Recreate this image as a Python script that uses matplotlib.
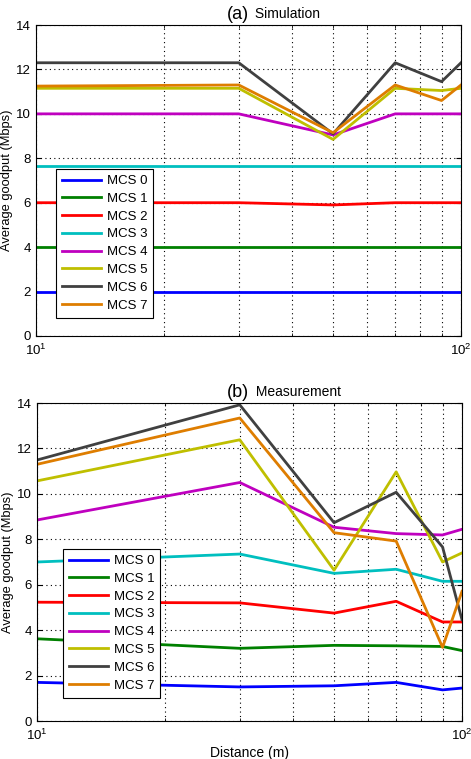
import numpy as np
import matplotlib
matplotlib.use('Agg')
import matplotlib.pyplot as plt

plt.rcParams['font.family'] = ['Liberation Sans', 'DejaVu Sans']
plt.rcParams['mathtext.fontset'] = 'custom'
plt.rcParams['mathtext.rm'] = 'Liberation Sans'

# ========== 数据 ==========
distance = [10, 30, 50, 70, 90, 100]
labels = ['MCS 0', 'MCS 1', 'MCS 2', 'MCS 3', 'MCS 4', 'MCS 5', 'MCS 6', 'MCS 7']

sim_mcs0 = [2.0, 2.0, 2.0, 2.0, 2.0, 2.0]
sim_mcs1 = [4.0, 4.0, 4.0, 4.0, 4.0, 4.0]
sim_mcs2 = [6.0, 6.0, 5.9, 6.0, 6.0, 6.0]
sim_mcs3 = [7.65, 7.65, 7.65, 7.65, 7.65, 7.65]
sim_mcs4 = [10.0, 10.0, 9.05, 10.0, 10.0, 10.0]
sim_mcs5 = [11.15, 11.15, 8.85, 11.15, 11.05, 11.15]
sim_mcs6 = [12.3, 12.3, 9.1, 12.3, 11.45, 12.3]
sim_mcs7 = [11.25, 11.3, 9.15, 11.3, 10.6, 11.3]

meas_mcs0 = [1.7, 1.5, 1.55, 1.7, 1.37, 1.45]
meas_mcs1 = [3.62, 3.2, 3.33, 3.31, 3.28, 3.1]
meas_mcs2 = [5.23, 5.2, 4.75, 5.27, 4.36, 4.36]
meas_mcs3 = [7.0, 7.35, 6.5, 6.68, 6.15, 6.15]
meas_mcs4 = [8.85, 10.5, 8.53, 8.25, 8.19, 8.44]
meas_mcs5 = [10.57, 12.38, 6.64, 10.97, 7.0, 7.4]
meas_mcs6 = [11.49, 13.92, 8.73, 10.07, 7.66, 4.46]
meas_mcs7 = [11.3, 13.34, 8.29, 7.92, 3.24, 5.71]

sim_data = [sim_mcs0, sim_mcs1, sim_mcs2, sim_mcs3, sim_mcs4, sim_mcs5, sim_mcs6, sim_mcs7]
meas_data = [meas_mcs0, meas_mcs1, meas_mcs2, meas_mcs3, meas_mcs4, meas_mcs5, meas_mcs6, meas_mcs7]

colors = ['#0000ff', '#008000', '#ff0000', '#00bfbf',
          '#bf00bf', '#bfbf00', '#404040', '#de7d00']


def draw_panel(ax, data, letter, name, legend_box):
    for vals, lab, c in zip(data, labels, colors):
        ax.plot(distance, vals, color=c, linewidth=2.0, label=lab)
    ax.set_xscale('log')
    ax.set_xlim(10, 100)
    ax.set_ylim(0, 14)
    ax.set_yticks(range(0, 15, 2))
    ax.grid(which='major', axis='both', linestyle=(0, (1, 3)), color='black', linewidth=0.8)
    ax.grid(which='minor', axis='x', linestyle=(0, (1, 3)), color='black', linewidth=0.8)
    ax.tick_params(which='both', direction='in', labelsize=9.5, top=True, right=True)
    ax.tick_params(axis='x', pad=5)
    ax.tick_params(which='minor', labelbottom=False)
    ax.set_ylabel('Average goodput (Mbps)', fontsize=9.3, labelpad=2)
    for s in ax.spines.values():
        s.set_linewidth(0.8)
    ax.text(0.5, 1.005, letter, transform=ax.transAxes, ha='right', va='bottom', fontsize=13)
    ax.text(0.505, 1.012, ' ' + name, transform=ax.transAxes, ha='left', va='bottom', fontsize=10)
    leg = ax.legend(loc='upper left', bbox_to_anchor=legend_box, fontsize=9.5,
                    fancybox=False, framealpha=1, edgecolor='black', borderaxespad=0,
                    handlelength=3.0, labelspacing=0.42, borderpad=0.45, handletextpad=0.4)
    leg.get_frame().set_linewidth(0.8)


fig = plt.figure(figsize=(4.71, 7.59), dpi=100)
ax1 = fig.add_axes([36 / 471, 1 - 336 / 759, 425 / 471, 311 / 759])
ax2 = fig.add_axes([37 / 471, 1 - 721 / 759, 425 / 471, 318 / 759])

draw_panel(ax1, sim_data, '(a)', 'Simulation', (0.047, 0.537))
draw_panel(ax2, meas_data, '(b)', 'Measurement', (0.061, 0.541))
ax2.set_xlabel('Distance (m)', fontsize=10, labelpad=2)

fig.savefig('out.png', dpi=100)
